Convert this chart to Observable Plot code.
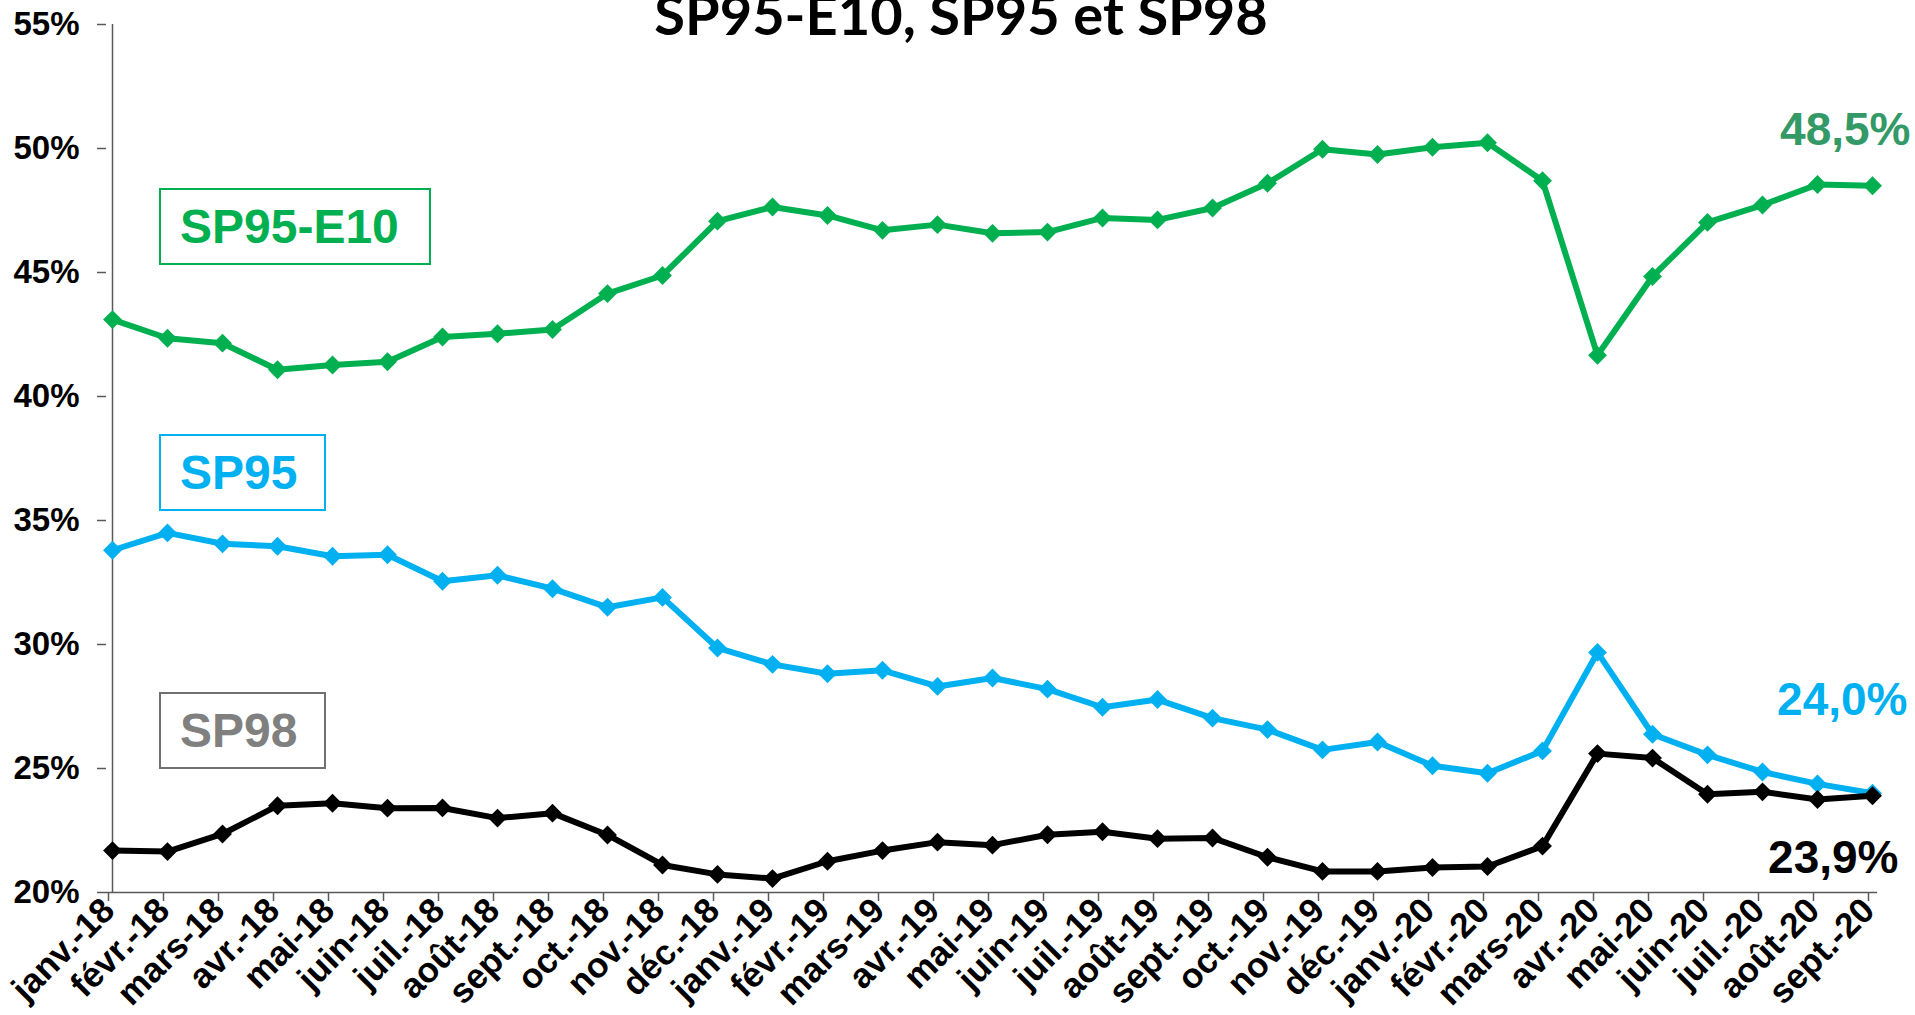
<!DOCTYPE html>
<html><head><meta charset="utf-8">
<script src="https://cdn.jsdelivr.net/npm/d3@7"></script>
<script src="https://cdn.jsdelivr.net/npm/@observablehq/plot@0.6"></script>
<style>
html,body{margin:0;padding:0;background:#fff;overflow:hidden}
#wrap{position:relative;width:1915px;height:1015px}
.box{position:absolute;box-sizing:border-box;font-family:"Liberation Sans",Arial,sans-serif;font-weight:bold;font-size:48px;display:flex;align-items:center;padding-left:19px;background:#fff}
</style></head><body>
<div id="wrap">
<div id="chart"></div>
<div class="box" style="left:159px;top:188px;width:272px;height:77px;border:2px solid #00B050;color:#00B050">SP95-E10</div>
<div class="box" style="left:159px;top:434px;width:167px;height:77px;border:2px solid #00B0F0;color:#00B0F0">SP95</div>
<div class="box" style="left:159px;top:692px;width:167px;height:77px;border:2px solid #707070;color:#808080">SP98</div>
</div>
<script>
const months = ["janv.-18","févr.-18","mars-18","avr.-18","mai-18","juin-18","juil.-18","août-18","sept.-18","oct.-18","nov.-18","déc.-18",
"janv.-19","févr.-19","mars-19","avr.-19","mai-19","juin-19","juil.-19","août-19","sept.-19","oct.-19","nov.-19","déc.-19",
"janv.-20","févr.-20","mars-20","avr.-20","mai-20","juin-20","juil.-20","août-20","sept.-20"];
const sp95e10 = [43.1,42.35,42.15,41.08,41.27,41.4,42.4,42.53,42.7,44.15,44.88,47.07,47.64,47.3,46.7,46.93,46.58,46.63,47.2,47.12,47.6,48.6,49.97,49.76,50.05,50.23,48.7,41.66,44.84,47.02,47.72,48.55,48.5];
const sp95 = [33.8,34.5,34.06,33.96,33.56,33.62,32.55,32.79,32.25,31.5,31.9,29.86,29.2,28.82,28.96,28.31,28.65,28.2,27.47,27.78,27.03,26.57,25.75,26.07,25.11,24.81,25.71,29.68,26.38,25.55,24.86,24.38,24.0];
const sp98 = [21.69,21.65,22.36,23.5,23.6,23.4,23.41,23.0,23.2,22.32,21.11,20.73,20.56,21.26,21.69,22.03,21.91,22.33,22.45,22.17,22.2,21.42,20.85,20.85,21.01,21.05,21.87,25.6,25.42,23.96,24.06,23.75,23.9];
const yTicks = [20,25,30,35,40,45,50,55];
const title = "SP95-E10, SP95 et SP98";
const endLabels = ["48,5%","24,0%","23,9%"];

const series = [
  {name:"SP95-E10", values:sp95e10, color:"#00B050"},
  {name:"SP95", values:sp95, color:"#00B0F0"},
  {name:"SP98", values:sp98, color:"#000000"}
];
const rows = series.flatMap(s => s.values.map((v,i) => ({serie:s.name, month:months[i], value:v})));
const last = series.map((s,i) => ({serie:s.name, month:months[months.length-1], value:s.values[s.values.length-1], label:endLabels[i]}));

const font = "'Liberation Sans', Arial, sans-serif";
const marks = [
  Plot.ruleY([20], {stroke:"#595959", strokeWidth:1.5}),
  Plot.ruleX([months[0]], {stroke:"#595959", strokeWidth:1.5}),
  Plot.axisY({ticks:yTicks, tickFormat:d => d + "%", tickSize:9, tickPadding:18, fontSize:33, fontWeight:"bold", stroke:"#595959", strokeWidth:1.5, label:null}),
  Plot.axisX({tickRotate:-45, tickSize:9, tickPadding:3, dx:-4, fontSize:35, fontWeight:"bold", stroke:"#595959", strokeWidth:1.5, label:null}),
];
for (const s of series) {
  const data = rows.filter(r => r.serie === s.name);
  marks.push(Plot.line(data, {x:"month", y:"value", stroke:s.color, strokeWidth:6, strokeLinejoin:"round"}));
  marks.push(Plot.dot(data, {x:"month", y:"value", fill:s.color, symbol:"diamond2", r:8.5}));
}
marks.push(Plot.text([last[0]], {x:"month", y:"value", text:"label", fill:"#339966", fontSize:46, fontWeight:"bold", textAnchor:"end", lineAnchor:"bottom", dx:38, dy:-41}));
marks.push(Plot.text([last[1]], {x:"month", y:"value", text:"label", fill:"#00B0F0", fontSize:46, fontWeight:"bold", textAnchor:"end", lineAnchor:"bottom", dx:35, dy:-78}));
marks.push(Plot.text([last[2]], {x:"month", y:"value", text:"label", fill:"#000000", fontSize:46, fontWeight:"bold", textAnchor:"end", lineAnchor:"bottom", dx:26, dy:77}));
marks.push(Plot.text([title], {frameAnchor:"top", text:d => d, dx:-31, dy:10, lineAnchor:"bottom", fontSize:56, fontWeight:"bold", fontFamily:"Lato", fill:"#000"}));

const chart = Plot.plot({
  width:1915, height:1015,
  marginLeft:106, marginRight:38, marginTop:24, marginBottom:123,
  style:{fontFamily:font, color:"#000", background:"transparent", overflow:"hidden"},
  x:{type:"point", domain:months, padding:0},
  y:{domain:[20,55]},
  marks
});
document.getElementById("chart").appendChild(chart);
</script>
</body></html>
